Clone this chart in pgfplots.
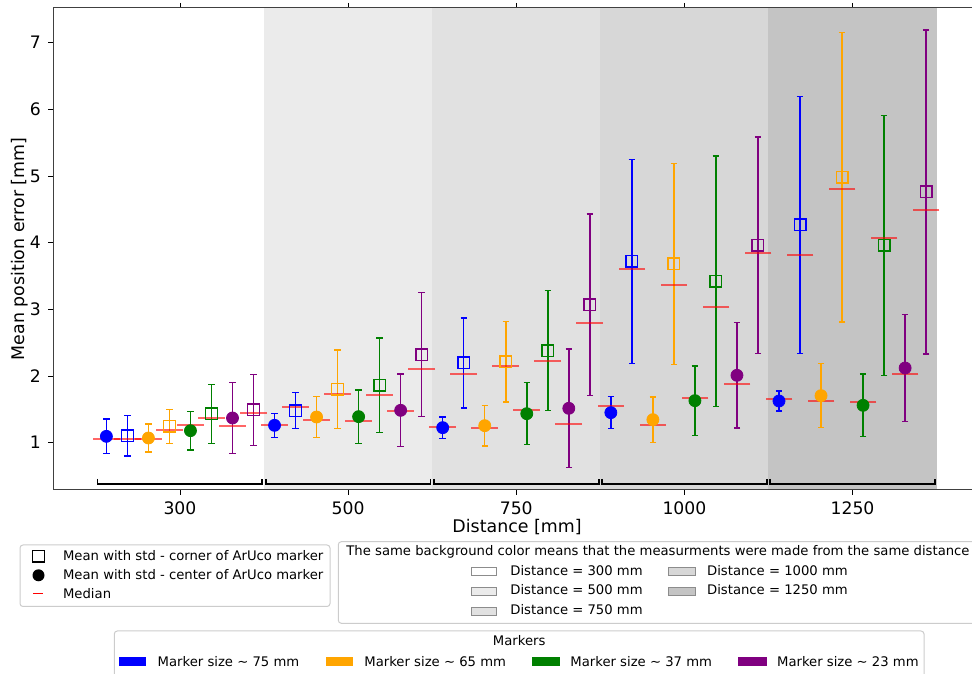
\documentclass[border=0pt]{standalone}
\usepackage{fontspec}
\setmainfont{DejaVu Sans}
\usepackage{pgfplots}
\usepackage{pgfplotstable}
\pgfplotsset{compat=1.18}

\definecolor{cblue}{HTML}{0000FF}
\definecolor{corange}{HTML}{FFA500}
\definecolor{cgreen}{HTML}{008000}
\definecolor{cpurple}{HTML}{800080}
\definecolor{band500}{HTML}{EBEBEB}
\definecolor{band750}{HTML}{E1E1E1}
\definecolor{band1000}{HTML}{D7D7D7}
\definecolor{band1250}{HTML}{C4C4C4}

% x = group position + offset, y = mean, e = std, m = median
\pgfplotstableread{
x y e m
-0.4375 1.095 0.26 1.06
0.5625 1.26 0.18 1.265
1.5625 1.225 0.16 1.235
2.5625 1.45 0.24 1.55
3.5625 1.625 0.15 1.66
}\bc
\pgfplotstableread{
x y e m
-0.3125 1.105 0.305 1.06
0.6875 1.48 0.27 1.54
1.6875 2.195 0.675 2.025
2.6875 3.72 1.53 3.605
3.6875 4.265 1.93 3.82
}\bs
\pgfplotstableread{
x y e m
-0.1875 1.07 0.21 1.055
0.8125 1.385 0.31 1.335
1.8125 1.255 0.305 1.225
2.8125 1.345 0.34 1.265
3.8125 1.705 0.48 1.625
}\oc
\pgfplotstableread{
x y e m
-0.0625 1.245 0.255 1.19
0.9375 1.80 0.59 1.73
1.9375 2.215 0.605 2.15
2.9375 3.68 1.51 3.37
3.9375 4.98 2.17 4.81
}\os
\pgfplotstableread{
x y e m
0.0625 1.18 0.29 1.265
1.0625 1.39 0.40 1.32
2.0625 1.435 0.465 1.495
3.0625 1.63 0.52 1.665
4.0625 1.56 0.47 1.61
}\gc
\pgfplotstableread{
x y e m
0.1875 1.43 0.44 1.37
1.1875 1.86 0.71 1.715
2.1875 2.38 0.90 2.225
3.1875 3.42 1.88 3.035
4.1875 3.96 1.95 4.07
}\gs
\pgfplotstableread{
x y e m
0.3125 1.37 0.53 1.245
1.3125 1.485 0.545 1.48
2.3125 1.515 0.89 1.275
3.3125 2.01 0.79 1.88
4.3125 2.12 0.80 2.03
}\pc
\pgfplotstableread{
x y e m
0.4375 1.49 0.53 1.45
1.4375 2.32 0.93 2.11
2.4375 3.07 1.36 2.80
3.4375 3.96 1.625 3.845
4.4375 4.76 2.43 4.485
}\ps

\newcommand\lfont{\fontsize{6.6}{8}\selectfont}
\pgfplotsset{
  median/.style={only marks, mark=-, mark size=6.67pt, red, opacity=0.6,
    mark options={line width=0.9pt}},
  meanpt/.style={#1, only marks, mark=*, mark size=3pt,
    mark options={draw=#1, fill=#1},
    error bars/.cd, y dir=both, y explicit},
  meansq/.style={#1, only marks, mark=square, mark size=2.9pt,
    mark options={draw=#1, fill=none, line width=0.7pt},
    error bars/.cd, y dir=both, y explicit},
}

\begin{document}
\begin{tikzpicture}
\useasboundingbox (0,0) rectangle (486pt,336.5pt);
\begin{axis}[
  at={(26.5pt,91.5pt)}, anchor=south west,
  scale only axis, width=463.25pt, height=241pt,
  xmin=-0.755, xmax=4.755, ymin=0.29, ymax=7.52,
  xtick={0,1,2,3,4}, xticklabels={300,500,750,1000,1250},
  ytick={1,2,3,4,5,6,7},
  tick align=outside, major tick length=2.5pt,
  tick style={black, line width=0.4pt},
  axis line style={black!75, line width=0.5pt},
  ticklabel style={font=\fontsize{8.6}{10}\selectfont},
  /pgf/number format/assume math mode=true,
  axis on top,
  error bars/error bar style={line width=0.75pt},
  error bars/error mark options={rotate=90, mark size=1.6pt, line width=0.75pt},
]
% background bands
\addplot[draw=none, fill=band500, forget plot] coordinates {(0.5,7.6) (1.5,7.6)} \closedcycle;
\addplot[draw=none, fill=band750, forget plot] coordinates {(1.5,7.6) (2.5,7.6)} \closedcycle;
\addplot[draw=none, fill=band1000, forget plot] coordinates {(2.5,7.6) (3.5,7.6)} \closedcycle;
\addplot[draw=none, fill=band1250, forget plot] coordinates {(3.5,7.6) (4.5,7.6)} \closedcycle;
% group brackets
\addplot[black, line width=0.9pt] coordinates {(-0.49,0.455) (-0.49,0.38) (0.49,0.38) (0.49,0.455)};
\addplot[black, line width=0.9pt] coordinates {(0.51,0.455) (0.51,0.38) (1.49,0.38) (1.49,0.455)};
\addplot[black, line width=0.9pt] coordinates {(1.51,0.455) (1.51,0.38) (2.49,0.38) (2.49,0.455)};
\addplot[black, line width=0.9pt] coordinates {(2.51,0.455) (2.51,0.38) (3.49,0.38) (3.49,0.455)};
\addplot[black, line width=0.9pt] coordinates {(3.51,0.455) (3.51,0.38) (4.49,0.38) (4.49,0.455)};
% medians
\addplot[median] table[x=x, y=m] {\bc};
\addplot[median] table[x=x, y=m] {\bs};
\addplot[median] table[x=x, y=m] {\oc};
\addplot[median] table[x=x, y=m] {\os};
\addplot[median] table[x=x, y=m] {\gc};
\addplot[median] table[x=x, y=m] {\gs};
\addplot[median] table[x=x, y=m] {\pc};
\addplot[median] table[x=x, y=m] {\ps};
% means with std
\addplot[meanpt=cblue] table[x=x, y=y, y error=e] {\bc};
\addplot[meansq=cblue] table[x=x, y=y, y error=e] {\bs};
\addplot[meanpt=corange] table[x=x, y=y, y error=e] {\oc};
\addplot[meansq=corange] table[x=x, y=y, y error=e] {\os};
\addplot[meanpt=cgreen] table[x=x, y=y, y error=e] {\gc};
\addplot[meansq=cgreen] table[x=x, y=y, y error=e] {\gs};
\addplot[meanpt=cpurple] table[x=x, y=y, y error=e] {\pc};
\addplot[meansq=cpurple] table[x=x, y=y, y error=e] {\ps};
\end{axis}

% labels and legends, in pixel units of the reference (origin top left)
\begin{scope}[x=0.5pt, y=-0.5pt, shift={(0,336.5pt)}]
\node[font=\fontsize{8.7}{10}\selectfont] at (517,527) {Distance [mm]};
\node[font=\fontsize{8.7}{10}\selectfont, rotate=90] at (20,249) {Mean position error [mm]};

% legend 1
\draw[black!20, fill=white, rounded corners=1.5pt, line width=0.5pt] (20,545) rectangle (330,606.5);
\draw[black, line width=0.65pt] (32.7,550.4) rectangle (44.3,562);
\fill[black] (38.5,575.3) circle[radius=6];
\draw[red, line width=0.75pt] (33.3,593.3) -- (43.3,593.3);
\node[font=\lfont, anchor=base west, inner sep=0] at (62.7,560.7) {Mean with std - corner of ArUco marker};
\node[font=\lfont, anchor=base west, inner sep=0] at (62.7,580) {Mean with std - center of ArUco marker};
\node[font=\lfont, anchor=base west, inner sep=0] at (62.7,599) {Median};

% legend 2
\draw[black!20, fill=white, rounded corners=1.5pt, line width=0.5pt] (338.3,541.7) rectangle (990,623.3);
\node[font=\lfont, anchor=base west, inner sep=0] at (346,556) {The same background color means that the measurments were made from the same distance};
\draw[black!45, fill=white, line width=0.4pt] (471.7,567.7) rectangle (496.7,575.7);
\draw[black!45, fill=band500, line width=0.4pt] (471.7,587) rectangle (496.7,595);
\draw[black!45, fill=band750, line width=0.4pt] (471.7,607) rectangle (496.7,615);
\draw[black!45, fill=band1000, line width=0.4pt] (668.3,567.7) rectangle (695,575.7);
\draw[black!45, fill=band1250, line width=0.4pt] (668.3,587) rectangle (695,595);
\node[font=\lfont, anchor=base west, inner sep=0] at (510,575.7) {Distance = 300 mm};
\node[font=\lfont, anchor=base west, inner sep=0] at (510,595) {Distance = 500 mm};
\node[font=\lfont, anchor=base west, inner sep=0] at (510,615) {Distance = 750 mm};
\node[font=\lfont, anchor=base west, inner sep=0] at (706.7,575.7) {Distance = 1000 mm};
\node[font=\lfont, anchor=base west, inner sep=0] at (706.7,595) {Distance = 1250 mm};

% legend 3
\draw[black!20, fill=white, rounded corners=1.5pt, line width=0.5pt] (114.3,631) rectangle (924,700);
\node[font=\lfont, anchor=base, inner sep=0] at (519.2,645.7) {Markers};
\fill[cblue] (119,656.7) rectangle (146.3,666);
\fill[corange] (325.7,656.7) rectangle (353.3,666);
\fill[cgreen] (532.3,656.7) rectangle (560,666);
\fill[cpurple] (738.3,656.7) rectangle (766.7,666);
\node[font=\lfont, anchor=base west, inner sep=0] at (157.3,666) {Marker size \textasciitilde{} 75 mm};
\node[font=\lfont, anchor=base west, inner sep=0] at (364,666) {Marker size \textasciitilde{} 65 mm};
\node[font=\lfont, anchor=base west, inner sep=0] at (570,666) {Marker size \textasciitilde{} 37 mm};
\node[font=\lfont, anchor=base west, inner sep=0] at (776.7,666) {Marker size \textasciitilde{} 23 mm};
\end{scope}
\end{tikzpicture}
\end{document}
